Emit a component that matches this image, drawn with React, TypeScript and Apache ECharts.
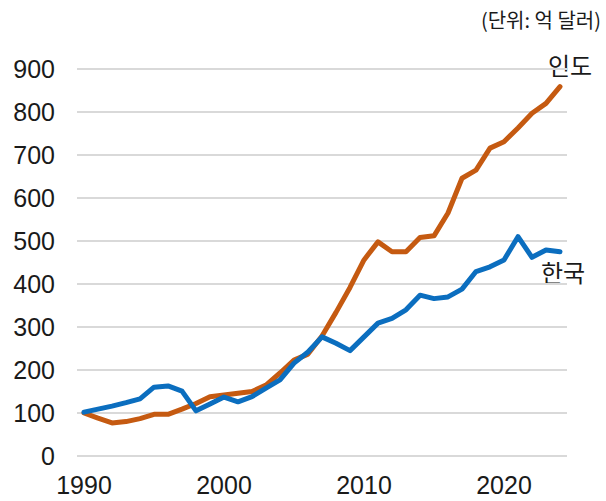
import React, { useEffect, useRef } from "react";
import * as echarts from "echarts";

const years = Array.from({ length: 35 }, (_, i) => String(1990 + i));
const india = [100, 88, 77, 80, 87, 97, 97, 109, 122, 138, 142, 146, 150, 165, 193, 223, 237, 279, 334, 392, 456, 498, 475, 475, 508, 512, 565, 646, 665, 716, 731, 763, 797, 820, 859];
const korea = [102, 109, 116, 124, 133, 160, 163, 151, 105, 121, 137, 126, 138, 158, 177, 216, 242, 277, 262, 245, 277, 309, 320, 340, 374, 366, 370, 388, 429, 440, 456, 510, 462, 479, 475];
const yTicks = { min: 0, max: 900, interval: 100 };
const unitText = "(단위: 억 달러)";
const indiaLabel = "인도";
const koreaLabel = "한국";

const ORANGE = "#C55A11";
const BLUE = "#0B6EBF";
const NUM_FONT = "Liberation Sans, Arial, sans-serif";
const KR_FONT = "Noto Sans CJK KR, sans-serif";

export default function App() {
  const ref = useRef<HTMLDivElement>(null);
  useEffect(() => {
    if (!ref.current) return;
    const chart = echarts.init(ref.current, undefined, { renderer: "svg" });
    chart.setOption({
      animation: false,
      backgroundColor: "#ffffff",
      grid: { left: 77, right: 39, top: 69, bottom: 45, containLabel: false },
      xAxis: {
        type: "category",
        data: years,
        boundaryGap: true,
        axisLine: { show: false },
        axisTick: { show: false },
        splitLine: { show: false },
        axisLabel: {
          interval: (i: number) => i % 10 === 0,
          fontSize: 25,
          color: "#1a1a1a",
          fontFamily: NUM_FONT,
          margin: 16,
        },
      },
      yAxis: {
        type: "value",
        min: yTicks.min,
        max: yTicks.max,
        interval: yTicks.interval,
        axisLine: { show: false },
        axisTick: { show: false },
        splitLine: { lineStyle: { color: "#d9d9d9", width: 2 } },
        axisLabel: {
          fontSize: 25,
          color: "#1a1a1a",
          fontFamily: NUM_FONT,
          margin: 22,
        },
      },
      series: [
        {
          name: indiaLabel,
          type: "line",
          data: india,
          showSymbol: false,
          lineStyle: { color: ORANGE, width: 5, cap: "round", join: "round" },
          itemStyle: { color: ORANGE },
          z: 2,
        },
        {
          name: koreaLabel,
          type: "line",
          data: korea,
          showSymbol: false,
          lineStyle: { color: BLUE, width: 5, cap: "round", join: "round" },
          itemStyle: { color: BLUE },
          z: 3,
        },
      ],
      graphic: [
        {
          type: "text",
          right: 5,
          top: 9,
          style: { text: unitText, fill: "#1a1a1a", font: `20px ${KR_FONT}` },
        },
        {
          type: "text",
          left: 548,
          top: 52,
          style: { text: indiaLabel, fill: "#1a1a1a", font: `24px ${KR_FONT}` },
        },
        {
          type: "text",
          left: 541,
          top: 259,
          style: { text: koreaLabel, fill: "#1a1a1a", font: `24px ${KR_FONT}` },
        },
      ],
    });
    return () => chart.dispose();
  }, []);
  return <div ref={ref} style={{ width: 606, height: 501, position: "fixed", left: 0, top: 0 }} />;
}
